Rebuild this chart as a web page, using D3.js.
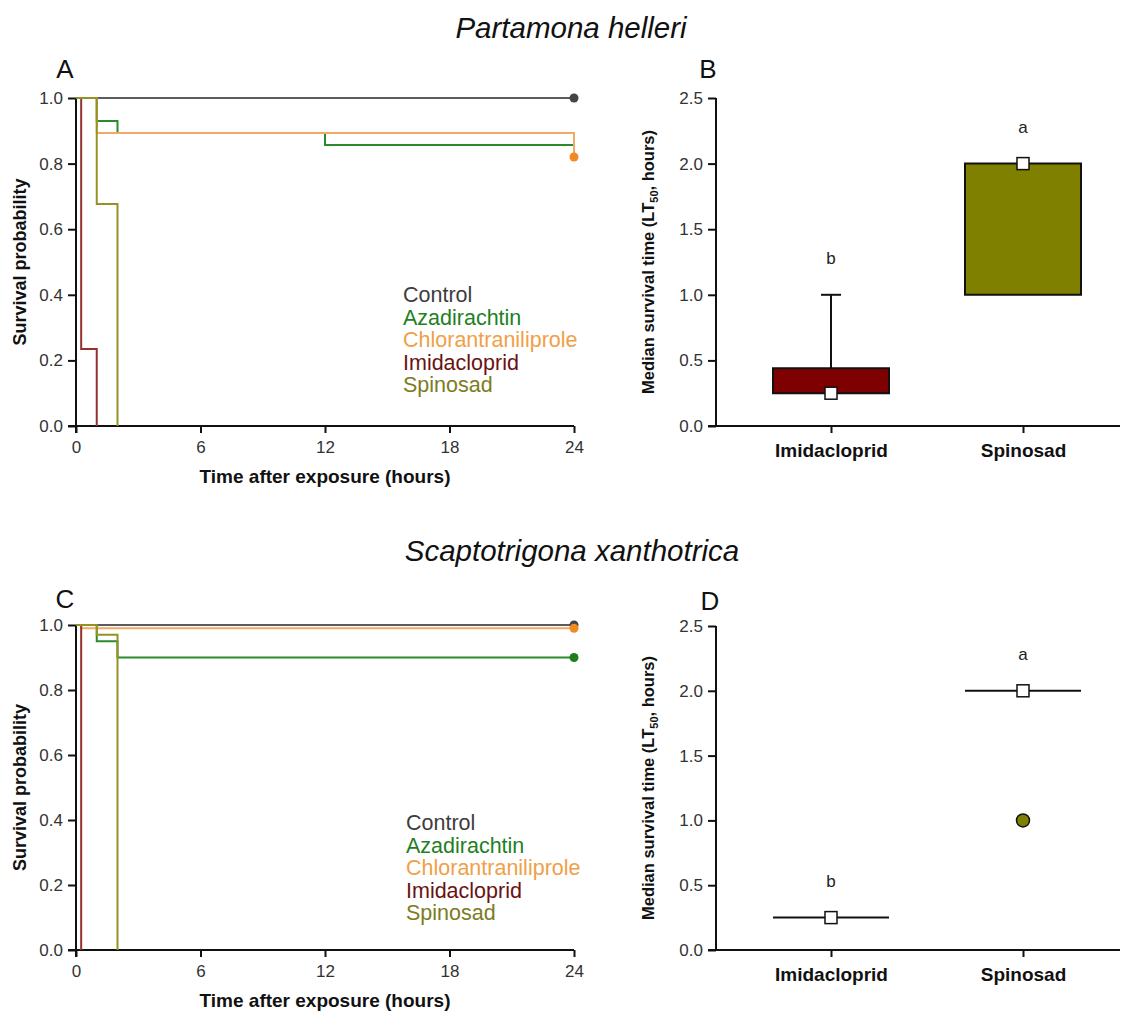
<!DOCTYPE html>
<html><head><meta charset="utf-8">
<script src="https://cdn.jsdelivr.net/npm/d3@7"></script>
<style>
body{margin:0;background:#fff}
svg{display:block}
text{font-family:"Liberation Sans",Arial,sans-serif}
</style>
</head><body>
<svg id="fig" width="1139" height="1012"></svg>
<script>
// ---- data ----
const treatments = ["Control","Azadirachtin","Chlorantraniliprole","Imidacloprid","Spinosad"];
const lineColors = ["#5c5c5c","#2b8a2b","#f3a866","#943030","#939325"];
const labelColors = ["#3d3d3d","#1f7f1f","#f0a048","#6b1212","#7c7c1e"];
const endDotColors = ["#444444","#1e7e1e","#f28a22","#6b1212","#7c7c1e"];
const hourTicks = [0,6,12,18,24];
const survTicks = [0,0.2,0.4,0.6,0.8,1.0];
const lt50Ticks = [0,0.5,1.0,1.5,2.0,2.5];

// Kaplan–Meier steps, [hours, survival probability]
const helleriControl   = [[0,1],[24,1]];
const helleriAzadir    = [[0,1],[1,0.93],[2,0.893],[12,0.857],[24,0.857]];
const helleriChloran   = [[0,1],[1,0.893],[24,0.82]];
const helleriImidaclo  = [[0,1],[0.25,0.235],[1,0]];
const helleriSpinosad  = [[0,1],[1,0.677],[2,0]];
// censoring dot at 24 h (null = none)
const helleriEndDots   = [1,null,0.82,null,null];

const xanthoControl    = [[0,1],[24,1]];
const xanthoAzadir     = [[0,1],[1,0.95],[2,0.90],[24,0.90]];
const xanthoChloran    = [[0,1],[0.25,0.99],[24,0.99]];
const xanthoImidaclo   = [[0,1],[0.25,0]];
const xanthoSpinosad   = [[0,1],[1,0.97],[2,0]];
const xanthoEndDots    = [1,0.90,0.99,null,null];

// median survival time (LT50, hours) summaries
const lt50Groups   = ["Imidacloprid","Spinosad"];
const boxFills     = ["#7e0000","#808000"];
const helleriLow   = [0.25,1.0];
const helleriQ1    = [0.25,1.0];
const helleriMed   = [0.25,2.0];
const helleriQ3    = [0.44,2.0];
const helleriHigh  = [1.0,2.0];
const helleriOut   = [[],[]];
const helleriLetters = ["b","a"];

const xanthoLow    = [0.25,2.0];
const xanthoQ1     = [0.25,2.0];
const xanthoMed    = [0.25,2.0];
const xanthoQ3     = [0.25,2.0];
const xanthoHigh   = [0.25,2.0];
const xanthoOut    = [[],[1.0]];
const xanthoLetters = ["b","a"];

// ---- drawing ----
const svg = d3.select("#fig");
const AX = "#111";
const FONT = "Liberation Sans, Arial, sans-serif";

function survivalPanel(box, curves, endDots, legendPos){
  const x = d3.scaleLinear().domain([0,24]).range([box.l, box.r]);
  const y = d3.scaleLinear().domain([0,1]).range([box.b, box.t]);
  const g = svg.append("g");

  // axes
  const yAx = g.append("g").attr("transform",`translate(${box.l},0)`)
    .call(d3.axisLeft(y).tickValues(survTicks).tickFormat(d3.format(".1f")).tickSize(8).tickSizeOuter(0));
  const xAx = g.append("g").attr("transform",`translate(0,${box.b})`)
    .call(d3.axisBottom(x).tickValues(hourTicks).tickSize(7).tickSizeOuter(0));
  [yAx,xAx].forEach(a=>{
    a.attr("font-size",null).attr("font-family",null);
    a.select(".domain").remove();
    a.selectAll(".tick line").attr("stroke",AX).attr("stroke-width",2);
    a.selectAll(".tick text").style("font-size","17px").attr("fill","#333").style("font-family",FONT);
  });
  yAx.selectAll(".tick text").attr("x",-13);
  xAx.selectAll(".tick text").attr("y",15);
  g.append("line").attr("x1",box.l).attr("x2",box.l).attr("y1",box.t).attr("y2",box.b+7)
    .attr("stroke",AX).attr("stroke-width",2);
  g.append("line").attr("x1",box.l-8).attr("x2",box.r).attr("y1",box.b).attr("y2",box.b)
    .attr("stroke",AX).attr("stroke-width",2);

  // titles
  g.append("text").attr("x",(box.l+box.r)/2).attr("y",box.b+57).attr("text-anchor","middle")
    .style("font-size","19px").attr("font-weight","bold").attr("fill","#111").text("Time after exposure (hours)");
  g.append("text").attr("transform",`translate(${box.l-50},${(box.t+box.b)/2}) rotate(-90)`)
    .attr("text-anchor","middle").style("font-size","18px").attr("font-weight","bold").attr("fill","#111")
    .text("Survival probability");

  // step curves
  const line = d3.line().x(d=>x(d[0])).y(d=>y(d[1])).curve(d3.curveStepAfter);
  curves.forEach((c,i)=>{
    g.append("path").datum(c).attr("d",line).attr("fill","none")
      .attr("stroke",lineColors[i]).attr("stroke-width",2);
  });
  endDots.forEach((v,i)=>{
    if(v===null) return;
    g.append("circle").attr("cx",x(24)).attr("cy",y(v)).attr("r",4.5).attr("fill",endDotColors[i]);
  });

  // legend
  treatments.forEach((t,i)=>{
    g.append("text").attr("x",legendPos[0]).attr("y",legendPos[1]+i*22.5)
      .attr("dominant-baseline","central").style("font-size","21.5px").attr("fill",labelColors[i]).text(t);
  });
}

function lt50Panel(box, low,q1,med,q3,high,outs,letters){
  const x = d3.scalePoint().domain(lt50Groups).range([box.l+115, box.l+307]);
  const y = d3.scaleLinear().domain([0,2.5]).range([box.b, box.t]);
  const g = svg.append("g");
  const yAx = g.append("g").attr("transform",`translate(${box.l},0)`)
    .call(d3.axisLeft(y).tickValues(lt50Ticks).tickFormat(d3.format(".1f")).tickSize(8).tickSizeOuter(0));
  const xAx = g.append("g").attr("transform",`translate(0,${box.b})`)
    .call(d3.axisBottom(x).tickSize(7).tickSizeOuter(0));
  [yAx,xAx].forEach(a=>{
    a.attr("font-size",null).attr("font-family",null);
    a.select(".domain").remove();
    a.selectAll(".tick line").attr("stroke",AX).attr("stroke-width",2);
    a.selectAll(".tick text").style("font-family",FONT);
  });
  yAx.selectAll(".tick text").attr("x",-13).style("font-size","17px").attr("fill","#333");
  xAx.selectAll(".tick text").attr("y",18).style("font-size","19px").attr("font-weight","bold").attr("fill","#111");
  g.append("line").attr("x1",box.l).attr("x2",box.l).attr("y1",box.t).attr("y2",box.b)
    .attr("stroke",AX).attr("stroke-width",2);
  g.append("line").attr("x1",box.l-8).attr("x2",box.r).attr("y1",box.b).attr("y2",box.b)
    .attr("stroke",AX).attr("stroke-width",2);

  const yt = g.append("text").attr("transform",`translate(${box.l-62},${(box.t+box.b)/2}) rotate(-90)`)
    .attr("text-anchor","middle").style("font-size","16.5px").attr("font-weight","bold").attr("fill","#111");
  yt.append("tspan").text("Median survival time (LT");
  yt.append("tspan").attr("dy",4).style("font-size","11px").text("50");
  yt.append("tspan").attr("dy",-4).text(", hours)");

  const hw = 58;
  lt50Groups.forEach((grp,i)=>{
    const cx = x(grp);
    // whiskers
    if(high[i] > q3[i]){
      g.append("line").attr("x1",cx).attr("x2",cx).attr("y1",y(q3[i])).attr("y2",y(high[i])).attr("stroke",AX).attr("stroke-width",2);
      g.append("line").attr("x1",cx-10).attr("x2",cx+10).attr("y1",y(high[i])).attr("y2",y(high[i])).attr("stroke",AX).attr("stroke-width",2);
    }
    if(low[i] < q1[i]){
      g.append("line").attr("x1",cx).attr("x2",cx).attr("y1",y(q1[i])).attr("y2",y(low[i])).attr("stroke",AX).attr("stroke-width",2);
      g.append("line").attr("x1",cx-10).attr("x2",cx+10).attr("y1",y(low[i])).attr("y2",y(low[i])).attr("stroke",AX).attr("stroke-width",2);
    }
    // box (collapses to a line when q1 == q3)
    g.append("path")
      .attr("d",`M${cx-hw},${y(q3[i])}H${cx+hw}V${y(q1[i])}H${cx-hw}Z`)
      .attr("fill",boxFills[i]).attr("stroke",AX).attr("stroke-width",2);
    // outliers
    outs[i].forEach(v=>{
      g.append("circle").attr("cx",cx).attr("cy",y(v)).attr("r",6.5)
        .attr("fill",boxFills[i]).attr("stroke","#111").attr("stroke-width",1.5);
    });
    // median marker
    g.append("rect").attr("x",cx-6).attr("y",y(med[i])-6).attr("width",12).attr("height",12)
      .attr("fill","#fff").attr("stroke","#111").attr("stroke-width",1.5);
    // significance letter
    const top = Math.max(high[i],q3[i]);
    g.append("text").attr("x",cx).attr("y",y(top)-36).attr("text-anchor","middle")
      .attr("dominant-baseline","central").style("font-size","17px").attr("fill","#222").text(letters[i]);
  });
}

// species titles and panel letters
svg.append("text").attr("x",571).attr("y",38).attr("text-anchor","middle").style("font-size","29.5px")
  .attr("font-style","italic").attr("fill","#111").text("Partamona helleri");
svg.append("text").attr("x",572).attr("y",561).attr("text-anchor","middle").style("font-size","29.5px")
  .attr("font-style","italic").attr("fill","#111").text("Scaptotrigona xanthotrica");
[["A",65,78],["B",708,78],["C",65,608],["D",710,610]].forEach(([t,px,py])=>{
  svg.append("text").attr("x",px).attr("y",py).attr("text-anchor","middle").style("font-size","26px")
    .attr("fill","#111").text(t);
});

survivalPanel({l:76,r:574,t:98,b:426},
  [helleriControl,helleriAzadir,helleriChloran,helleriImidaclo,helleriSpinosad],
  helleriEndDots,[403,295]);
survivalPanel({l:76,r:574,t:625,b:950},
  [xanthoControl,xanthoAzadir,xanthoChloran,xanthoImidaclo,xanthoSpinosad],
  xanthoEndDots,[406,823]);
lt50Panel({l:716,r:1120,t:98,b:426},helleriLow,helleriQ1,helleriMed,helleriQ3,helleriHigh,helleriOut,helleriLetters);
lt50Panel({l:716,r:1120,t:626,b:950},xanthoLow,xanthoQ1,xanthoMed,xanthoQ3,xanthoHigh,xanthoOut,xanthoLetters);
</script>
</body></html>
